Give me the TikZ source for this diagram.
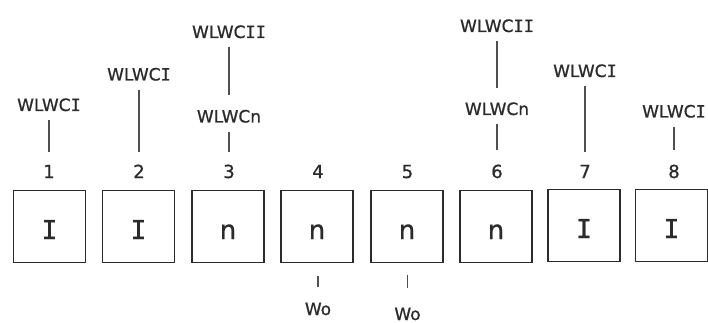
\documentclass[tikz,border=0pt]{standalone}
\usepackage{fontspec}
\setmainfont{DejaVu Sans}[FakeBold=0.9]
\newfontfamily\serifI{DejaVu Sans Mono}[FakeBold=0.9]
\newcommand{\sI}{{\serifI I}}
\definecolor{ink}{HTML}{2B2B2B}
\definecolor{wire}{HTML}{505050}
\tikzset{
  cell/.style={draw=ink, line width=1.4pt, minimum width=72pt, minimum height=72pt,
    inner sep=0pt, outer sep=0pt, text height=25pt, text depth=0pt,
    font=\fontsize{26}{26}\selectfont, text=ink},
  num/.style={font=\fontsize{18}{18}\selectfont, text=ink, text height=13pt,
    text depth=0pt, inner xsep=1pt, inner ysep=12.5pt},
  lbl/.style={font=\fontsize{17}{17}\selectfont, text=ink, text height=12pt,
    text depth=0pt, inner xsep=1pt, inner ysep=9pt},
  wo/.style={font=\fontsize{17}{17}\selectfont, text=ink, text height=13pt,
    text depth=0pt, inner xsep=1pt, inner ysep=15pt},
  wire/.style={draw=wire, line width=1.3pt}
}
\begin{document}
\begin{tikzpicture}[x=1pt, y=-1pt]
\useasboundingbox (0,0) rectangle (708,323);
% boxes
\node[cell] (b1) at (49.5,226.5) {\sI};
\node[cell] (b2) at (138.5,226.5) {\sI};
\node[cell] (b3) at (228,226.5) {n};
\node[cell] (b4) at (317,226.5) {n};
\node[cell] (b5) at (407,226.5) {n};
\node[cell] (b6) at (496,226.5) {n};
\node[cell] (b7) at (584,225.5) {\sI};
\node[cell] (b8) at (671.5,225.5) {\sI};
% numbers
\node[num] (n1) at (49,171.5) {1};
\node[num] (n2) at (139,171.5) {2};
\node[num] (n3) at (229,171.5) {3};
\node[num] (n4) at (318,171.5) {4};
\node[num] (n5) at (407.5,171.5) {5};
\node[num] (n6) at (497,171.5) {6};
\node[num] (n7) at (585,171.5) {7};
\node[num] (n8) at (674,171.5) {8};
% labels above
\node[lbl] (l1) at (49,105) {WLWC\sI};
\node[lbl] (l2) at (139,74.5) {WLWC\sI};
\node[lbl] (l3a) at (229,32) {WLWC\sI\sI};
\node[lbl] (l3b) at (229,116.5) {WLWCn};
\node[lbl] (l6a) at (497,26) {WLWC\sI\sI};
\node[lbl] (l6b) at (497,109) {WLWCn};
\node[lbl] (l7) at (585,71) {WLWC\sI};
\node[lbl] (l8) at (674,111.5) {WLWC\sI};
% labels below
\node[wo] (w4) at (318,308.5) {Wo};
\node[wo] (w5) at (407.5,313.5) {Wo};
% connectors
\draw[wire] (l1) -- (n1);
\draw[wire] (l2) -- (n2);
\draw[wire, shorten >=6pt] (l3a) -- (l3b);
\draw[wire] (l3b) -- (n3);
\draw[wire, shorten >=6pt] (l6a) -- (l6b);
\draw[wire, shorten >=2pt] (l6b) -- (n6);
\draw[wire] (l7) -- (n7);
\draw[wire, shorten >=2pt] (l8) -- (n8);
\draw[wire, shorten <=13pt] (b4.south -| w4) -- (w4);
\draw[wire, shorten <=12pt, shorten >=4pt] (b5.south -| w5) -- (w5);
\end{tikzpicture}
\end{document}
